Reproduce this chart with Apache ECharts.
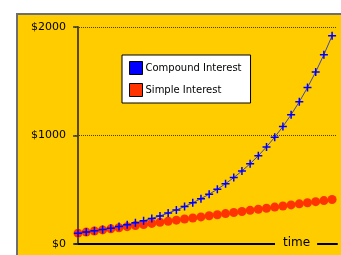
<!DOCTYPE html>
<html>
<head>
<meta charset="utf-8">
<script src="https://cdn.jsdelivr.net/npm/echarts@6/dist/echarts.min.js"></script>
<style>
  html, body { margin: 0; padding: 0; background: #ffffff; }
  #bg { position: absolute; left: 16px; top: 13px; right: 0; bottom: 0; background: #ffcc00;
        border-top: 2px solid #6e6e6e; border-left: 2px solid #6e6e6e; }
  #chart { position: absolute; left: 0; top: 0; width: 341px; height: 255px; }
</style>
</head>
<body>
<div id="bg"></div>
<div id="chart"></div>
<script>
// years since the start
var years = [0, 1, 2, 3, 4, 5, 6, 7, 8, 9, 10, 11, 12, 13, 14, 15,
    16, 17, 18, 19, 20, 21, 22, 23, 24, 25, 26, 27, 28, 29, 30, 31]
// balance in $
var compound = [100, 110, 121, 133, 146, 161, 177, 195, 214, 236, 259, 285, 314, 345, 380, 418,
    459, 505, 556, 612, 673, 740, 814, 895, 985, 1083, 1192, 1311, 1442, 1586, 1745, 1919]
var simple = [100, 110, 120, 130, 140, 150, 160, 170, 180, 190, 200, 210, 220, 230, 240, 250,
    260, 270, 280, 290, 300, 310, 320, 330, 340, 350, 360, 370, 380, 390, 400, 410]
var yTicks = [0, 1000, 2000]

function pairs(vals) {
    return years.map(function (y, i) { return [y, vals[i]] })
}

var chart = echarts.init(document.getElementById('chart'), null, { renderer: 'canvas' })
var option = {
    backgroundColor: 'transparent',
    animation: false,
    textStyle: { fontFamily: 'DejaVu Sans' },
    grid: { left: 75, top: 27, right: 4, bottom: 11 },
    legend: {
        data: ['Compound Interest', 'Simple Interest'],
        orient: 'vertical',
        left: 122,
        top: 55,
        backgroundColor: '#ffffff',
        borderColor: '#000000',
        borderWidth: 1,
        borderRadius: 0,
        padding: [6, 9, 6, 7],
        itemWidth: 13,
        itemHeight: 13,
        itemGap: 8,
        icon: 'rect',
        itemStyle: { borderColor: '#000000', borderWidth: 1 },
        textStyle: { fontFamily: 'DejaVu Sans', fontSize: 10, color: '#000000', padding: [0, 0, 0, -2] }
    },
    // "time" label sits on the x axis line, hiding part of it
    graphic: [{
        type: 'text',
        left: 275,
        top: 235,
        z: 100,
        style: {
            text: 'time',
            font: '12px "DejaVu Sans"',
            fill: '#000000',
            backgroundColor: '#ffcc00',
            padding: [2, 7, 2, 8]
        }
    }],
    xAxis: {
        type: 'value',
        min: -0.37,
        max: 31.6,
        axisLine: { show: true, onZero: false, lineStyle: { color: '#000000', width: 2 } },
        axisTick: { show: false },
        axisLabel: { show: false },
        splitLine: { show: false }
    },
    yAxis: {
        type: 'value',
        min: yTicks[0],
        max: yTicks[yTicks.length - 1],
        interval: 1000,
        axisLine: { show: true, lineStyle: { color: '#5a4b00', width: 2 } },
        axisTick: { show: true, length: 5, lineStyle: { color: '#333333', width: 1.5 } },
        axisLabel: {
            margin: 9,
            fontFamily: 'DejaVu Sans', fontSize: 11, color: '#000000',
            formatter: function (v) { return '$' + v }
        },
        splitLine: { show: true, lineStyle: { color: '#4a3f00', type: 'dotted', width: 1 } }
    },
    series: [
        {
            name: 'Simple Interest',
            type: 'line',
            data: pairs(simple),
            symbol: 'circle',
            symbolSize: 9,
            color: '#ff3300',
            itemStyle: { color: '#ff3300' },
            lineStyle: { color: '#ff3300', width: 1 },
            z: 2
        },
        {
            name: 'Compound Interest',
            type: 'line',
            data: pairs(compound),
            symbol: 'path://M0,5L10,5M5,0L5,10',
            symbolSize: 8,
            color: '#0000ff',
            itemStyle: { color: '#0000ff', borderColor: '#0000ff', borderWidth: 1.5 },
            lineStyle: { color: '#4444aa', width: 1 },
            z: 3
        }
    ]
}
chart.setOption(option)
</script>
</body>
</html>
